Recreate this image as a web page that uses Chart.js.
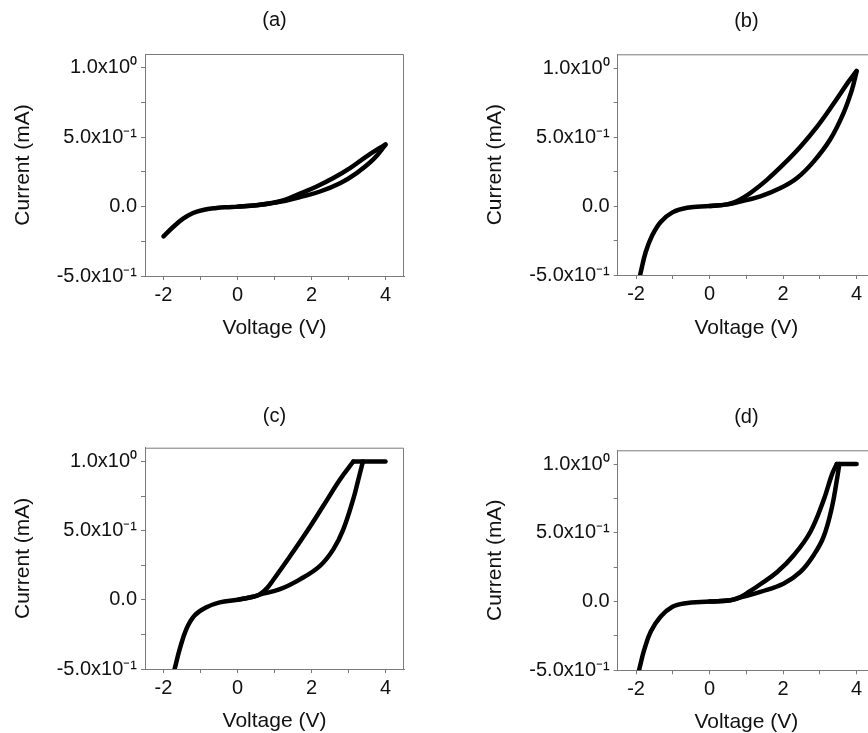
<!DOCTYPE html>
<html><head><meta charset="utf-8">
<script src="https://cdn.jsdelivr.net/npm/chart.js@4.4.1/dist/chart.umd.min.js"></script>
<style>
html,body{margin:0;padding:0;background:#fff;overflow:hidden;width:868px;height:733px;position:relative;}
canvas{position:absolute;}
</style></head><body>
<canvas id="ca" width="470" height="400" style="left:0px;top:0px"></canvas>
<canvas id="cb" width="470" height="400" style="left:434px;top:0px"></canvas>
<canvas id="cc" width="470" height="400" style="left:0px;top:366px"></canvas>
<canvas id="cd" width="470" height="400" style="left:434px;top:366px"></canvas>
<script>
// ---- tick definitions ----
const xTickValues = [-2, -1, 0, 1, 2, 3, 4];
const xTickLabels = ['-2', '', '0', '', '2', '', '4'];
const yTickValues = [-0.5, -0.25, 0, 0.25, 0.5, 0.75, 1.0];
const yTickLabels = ['-5.0x10\u207B\u00B9', '', '0.0', '', '5.0x10\u207B\u00B9', '', '1.0x10\u2070'];
const xAxisTitle = 'Voltage (V)';
const yAxisTitle = 'Current (mA)';
const panelTitles = ['(a)', '(b)', '(c)', '(d)'];

// ---- panel (a) ----
const aSweepV  = [-2.0, -1.74, -1.47, -1.2, -0.93, -0.57, -0.3, 0, 0.51, 0.97, 1.3, 1.69, 2.23, 2.77, 3.22, 3.67, 4.0];
const aSweepI  = [-0.215, -0.147, -0.087, -0.046, -0.024, -0.01, -0.004, 0, 0.01, 0.027, 0.042, 0.068, 0.109, 0.169, 0.242, 0.34, 0.445];
const aReturnV = [0, 0.51, 0.97, 1.3, 1.69, 2.14, 2.59, 3.04, 3.49, 4.0];
const aReturnI = [0, 0.01, 0.028, 0.05, 0.094, 0.145, 0.206, 0.278, 0.363, 0.449];
const aFlatV = [];
const aFlatI = [];

// ---- panel (b) ----
const bSweepV  = [-2.0, -1.89, -1.74, -1.56, -1.33, -1.01, -0.61, 0, 0.48, 0.75, 1.38, 1.93, 2.38, 2.83, 3.28, 3.64, 3.87, 4.0];
const bSweepI  = [-0.62, -0.5, -0.335, -0.212, -0.115, -0.046, -0.012, 0, 0.012, 0.027, 0.07, 0.13, 0.203, 0.322, 0.482, 0.672, 0.84, 0.976];
const bReturnV = [0, 0.48, 0.7, 0.9, 1.11, 1.56, 2.02, 2.47, 2.92, 3.38, 3.78, 4.0];
const bReturnI = [0, 0.012, 0.03, 0.058, 0.094, 0.19, 0.305, 0.43, 0.574, 0.745, 0.902, 0.98];
const bFlatV = [];
const bFlatI = [];

// ---- panel (c) ----
const cSweepV  = [-2.0, -1.70, -1.56, -1.38, -1.16, -0.84, -0.48, 0, 0.42, 0.6, 1.15, 1.69, 2.23, 2.59, 2.86, 3.13, 3.27, 3.39];
const cSweepI  = [-0.8, -0.5, -0.355, -0.21, -0.113, -0.054, -0.018, 0, 0.022, 0.038, 0.077, 0.148, 0.246, 0.365, 0.51, 0.73, 0.874, 1.0];
const cReturnV = [0, 0.42, 0.6, 0.8, 0.97, 1.42, 1.87, 2.32, 2.77, 3.13];
const cReturnI = [0, 0.022, 0.04, 0.085, 0.145, 0.315, 0.492, 0.68, 0.87, 1.0];
const cFlatV = [3.13, 4.0];
const cFlatI = [1.0, 1.0];

// ---- panel (d) ----
const dSweepV  = [-2.0, -1.92, -1.78, -1.60, -1.33, -1.01, -0.70, 0, 0.57, 0.84, 1.38, 2.02, 2.47, 2.83, 3.10, 3.33, 3.46, 3.53];
const dSweepI  = [-0.584, -0.5, -0.352, -0.218, -0.108, -0.038, -0.014, 0, 0.01, 0.03, 0.07, 0.131, 0.215, 0.337, 0.47, 0.688, 0.881, 1.0];
const dReturnV = [0, 0.57, 0.84, 1.1, 1.38, 1.84, 2.29, 2.74, 3.10, 3.33, 3.46];
const dReturnI = [0, 0.01, 0.032, 0.075, 0.126, 0.215, 0.337, 0.506, 0.736, 0.925, 1.0];
const dFlatV = [3.46, 4.0];
const dFlatI = [1.0, 1.0];

const FONT = "'Liberation Sans', Arial, Helvetica, sans-serif";
const AXIS_COLOR = '#7a7a7a';
const TEXT_COLOR = '#111111';

const framePlugin = {
  id: 'frame',
  afterDatasetsDraw(chart) {
    const {ctx, chartArea: a} = chart;
    ctx.save();
    ctx.strokeStyle = AXIS_COLOR;
    ctx.lineWidth = 1;
    ctx.beginPath();
    ctx.moveTo(a.left, a.top + 0.5);
    ctx.lineTo(a.right - 0.5, a.top + 0.5);
    ctx.lineTo(a.right - 0.5, a.bottom);
    ctx.stroke();
    ctx.restore();
  }
};

function pts(vs, is) { return vs.map((v, i) => ({x: v, y: is[i]})); }

function lineSet(vs, is) {
  return {
    data: pts(vs, is),
    showLine: true,
    borderColor: '#000',
    borderWidth: 4.5,
    borderCapStyle: 'round',
    borderJoinStyle: 'round',
    pointRadius: 0,
    tension: 0.4,
    clip: 0
  };
}

function makePanel(id, title, sweepV, sweepI, retV, retI, flatV, flatI, g) {
  const W = 470, H = 400, XH = 70, YW = 145;
  const padLeft = g.L - YW;
  const t1 = g.titleC - 12;
  const t2 = g.T - 24 - t1;
  const padBottom = H - g.B - XH;
  const datasets = [lineSet(sweepV, sweepI), lineSet(retV, retI)];
  if (flatV.length) datasets.push(lineSet(flatV, flatI));
  new Chart(document.getElementById(id), {
    type: 'scatter',
    data: { datasets },
    options: {
      responsive: false,
      animation: false,
      events: [],
      layout: { padding: { left: padLeft, right: W - g.R, top: 0, bottom: padBottom } },
      plugins: {
        legend: { display: false },
        tooltip: { enabled: false },
        title: {
          display: true, text: title, fullSize: false, color: TEXT_COLOR,
          font: { family: FONT, size: 20, weight: 'normal' },
          padding: { top: t1, bottom: t2 }
        }
      },
      scales: {
        x: {
          type: 'linear', min: -2.5, max: 4.5,
          afterBuildTicks: s => { s.ticks = xTickValues.map(v => ({value: v})); },
          afterFit: s => { s.height = XH; },
          ticks: {
            callback: (v, i) => xTickLabels[i],
            color: TEXT_COLOR, padding: g.xTickC - g.B - 16,
            font: { family: FONT, size: 20 }, maxRotation: 0, autoSkip: false
          },
          grid: { drawOnChartArea: false, drawTicks: true, tickLength: 4, color: AXIS_COLOR, tickColor: AXIS_COLOR },
          border: { display: true, color: AXIS_COLOR, width: 1 },
          title: {
            display: true, text: xAxisTitle, color: TEXT_COLOR,
            font: { family: FONT, size: 21 },
            padding: { top: 0, bottom: g.B + XH - 12.6 - g.xTitleC }
          }
        },
        y: {
          type: 'linear', min: -0.5, max: 1.1,
          afterBuildTicks: s => { s.ticks = yTickValues.map(v => ({value: v})); },
          afterFit: s => { s.width = YW; },
          ticks: {
            callback: (v, i) => yTickLabels[i],
            color: TEXT_COLOR, padding: 4,
            font: { family: FONT, size: 20 }, autoSkip: false
          },
          grid: { drawOnChartArea: false, drawTicks: true, tickLength: 4, color: AXIS_COLOR, tickColor: AXIS_COLOR },
          border: { display: true, color: AXIS_COLOR, width: 1 },
          title: {
            display: true, text: yAxisTitle, color: TEXT_COLOR,
            font: { family: FONT, size: 21 },
            padding: { top: g.yTitleC - padLeft - 12.6, bottom: 0 }
          }
        }
      }
    },
    plugins: [framePlugin]
  });
}

makePanel('ca', panelTitles[0], aSweepV, aSweepI, aReturnV, aReturnI, aFlatV, aFlatI,
  {L: 145, T: 54, R: 404, B: 276, titleC: 20, xTickC: 295, xTitleC: 328, yTitleC: 23});
makePanel('cb', panelTitles[1], bSweepV, bSweepI, bReturnV, bReturnI, bFlatV, bFlatI,
  {L: 183.7, T: 54.3, R: 441, B: 275, titleC: 21.7, xTickC: 294.3, xTitleC: 328.3, yTitleC: 61.7});
makePanel('cc', panelTitles[2], cSweepV, cSweepI, cReturnV, cReturnI, cFlatV, cFlatI,
  {L: 145, T: 81.7, R: 404, B: 303, titleC: 50, xTickC: 322, xTitleC: 355, yTitleC: 23});
makePanel('cd', panelTitles[3], dSweepV, dSweepI, dReturnV, dReturnI, dFlatV, dFlatI,
  {L: 183.7, T: 84.3, R: 441, B: 304.3, titleC: 51.7, xTickC: 323.3, xTitleC: 356.7, yTitleC: 61.7});
</script>
</body></html>
